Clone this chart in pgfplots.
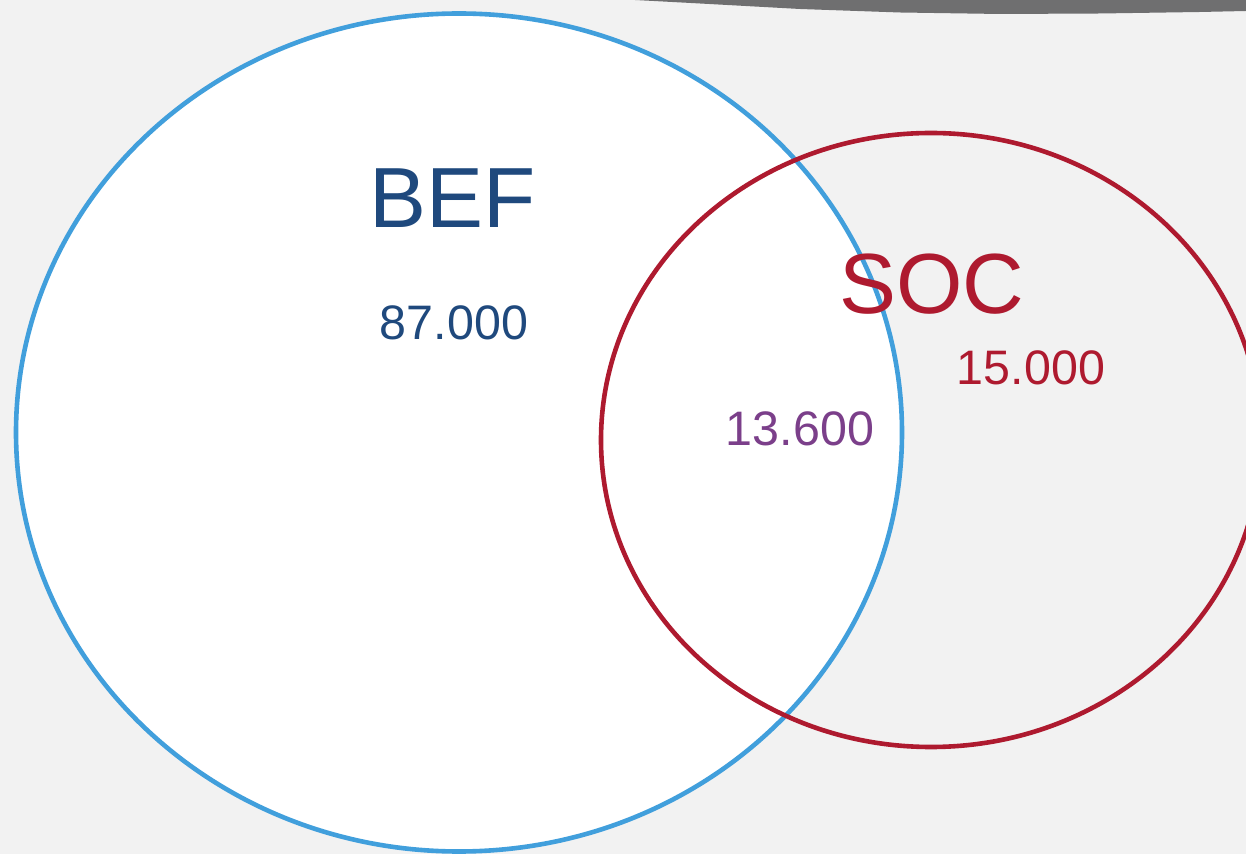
\documentclass[border=0pt]{standalone}
\usepackage{pgfplots}
\pgfplotsset{compat=1.18}
\usepackage{fontspec}
\setmainfont{Liberation Sans}
\definecolor{bg}{HTML}{F2F2F2}
\definecolor{befline}{HTML}{419FDC}
\definecolor{beftext}{HTML}{1F497D}
\definecolor{socred}{HTML}{AE1A2F}
\definecolor{purp}{HTML}{7B3F8A}
\definecolor{topgray}{HTML}{6F6F70}
\begin{document}
\begin{tikzpicture}
\begin{axis}[
  width=623pt, height=427pt, scale only axis,
  xmin=0, xmax=1246, ymin=0, ymax=854, y dir=reverse,
  hide axis, clip=true,
]
\fill[bg] (axis cs:0,0) rectangle (axis cs:1246,854);
\addplot[draw=none, fill=topgray] coordinates {
  (635,0) (700,3.5) (800,9) (900,12.5) (1000,14) (1100,13.5) (1200,12) (1246,11) (1246,0) (635,0)};
\draw[befline, line width=2.3pt, fill=white] (axis cs:459,432.5) ellipse [x radius=443, y radius=419];
\draw[socred, line width=2.3pt] (axis cs:931,440) ellipse [x radius=330, y radius=307];
\node[beftext, font=\fontsize{42.7}{48}\selectfont] at (axis cs:453,198) {BEF};
\node[beftext, font=\fontsize{24.2}{28}\selectfont] at (axis cs:454,323) {87.000};
\node[socred, font=\fontsize{42.7}{48}\selectfont] at (axis cs:932,284) {SOC};
\node[socred, font=\fontsize{24.2}{28}\selectfont] at (axis cs:1031,368) {15.000};
\node[purp, font=\fontsize{24.2}{28}\selectfont] at (axis cs:800,429) {13.600};
\end{axis}
\end{tikzpicture}
\end{document}
